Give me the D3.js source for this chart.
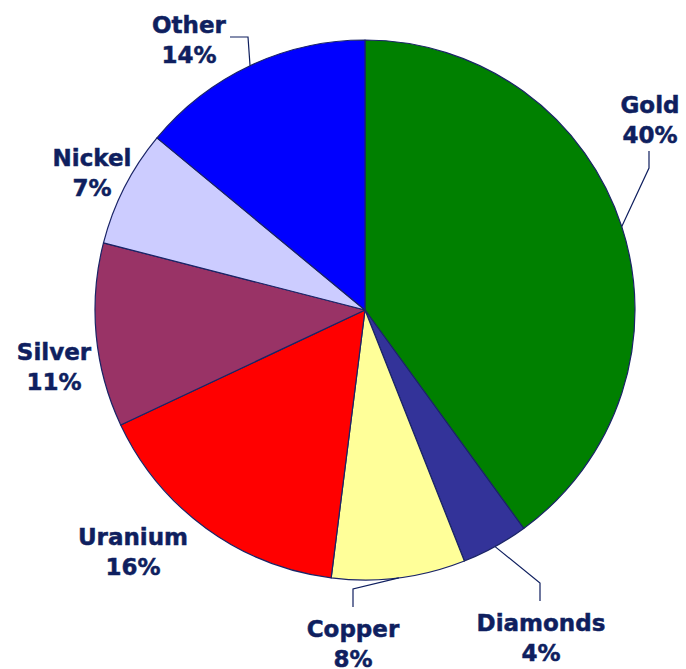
<!DOCTYPE html>
<html>
<head>
<meta charset="utf-8">
<script src="https://cdn.jsdelivr.net/npm/d3@7"></script>
<style>
html, body { margin: 0; padding: 0; background: #fff; }
svg { display: block; }
text { font-family: Verdana, "DejaVu Sans", sans-serif; font-weight: bold; }
</style>
</head>
<body>
<svg id="chart" width="686" height="669"></svg>
<script>
const categories = ["Gold", "Diamonds", "Copper", "Uranium", "Silver", "Nickel", "Other"];
const values = [40, 4, 8, 16, 11, 7, 14];
const colors = ["#008000", "#333399", "#FFFF99", "#FF0000", "#993366", "#CCCCFF", "#0000FF"];

// layout: label centers (x, baseline of first line) and leader elbow points
const labelLayout = {
  Gold:     { x: 650, y: 113, leader: [[649, 151], [649, 168]] },
  Diamonds: { x: 541, y: 631, leader: [[540, 601], [540, 583]] },
  Copper:   { x: 353, y: 637, leader: [[353, 607], [353, 589]] },
  Uranium:  { x: 133, y: 545 },
  Silver:   { x: 54,  y: 360 },
  Nickel:   { x: 92,  y: 166 },
  Other:    { x: 189, y: 33,  leader: [[230, 37], [248, 37]] }
};

const W = 686, H = 669;
const cx = 365, cy = 310, R = 270;
const ink = "#0f1f5f";

const svg = d3.select("#chart");
const g = svg.append("g").attr("transform", `translate(${cx},${cy})`);

const data = categories.map((c, i) => ({ name: c, value: values[i], color: colors[i] }));
const pie = d3.pie().value(d => d.value).sort(null);
const arc = d3.arc().innerRadius(0).outerRadius(R);
const arcs = pie(data);

g.selectAll("path.slice")
  .data(arcs)
  .join("path")
  .attr("class", "slice")
  .attr("d", arc)
  .attr("fill", d => d.data.color)
  .attr("stroke", "#1a2466")
  .attr("stroke-width", 1.2)
  .attr("stroke-linejoin", "round");

// leader lines
arcs.forEach(a => {
  const L = labelLayout[a.data.name];
  if (!L.leader) return;
  const mid = (a.startAngle + a.endAngle) / 2;
  const edge = [cx + R * Math.sin(mid), cy - R * Math.cos(mid)];
  const pts = [...L.leader, edge];
  svg.append("path")
    .attr("d", d3.line()(pts))
    .attr("fill", "none")
    .attr("stroke", ink)
    .attr("stroke-width", 1.2);
});

// labels
const total = d3.sum(values);
arcs.forEach(a => {
  const L = labelLayout[a.data.name];
  const t = svg.append("text")
    .attr("text-anchor", "middle")
    .attr("fill", ink)
    .attr("stroke", ink)
    .attr("stroke-width", 0.5)
    .attr("font-size", 23);
  t.append("tspan").attr("x", L.x).attr("y", L.y).text(a.data.name);
  t.append("tspan").attr("x", L.x).attr("y", L.y + 30)
    .text(Math.round(a.data.value / total * 100) + "%");
});
</script>
</body>
</html>
